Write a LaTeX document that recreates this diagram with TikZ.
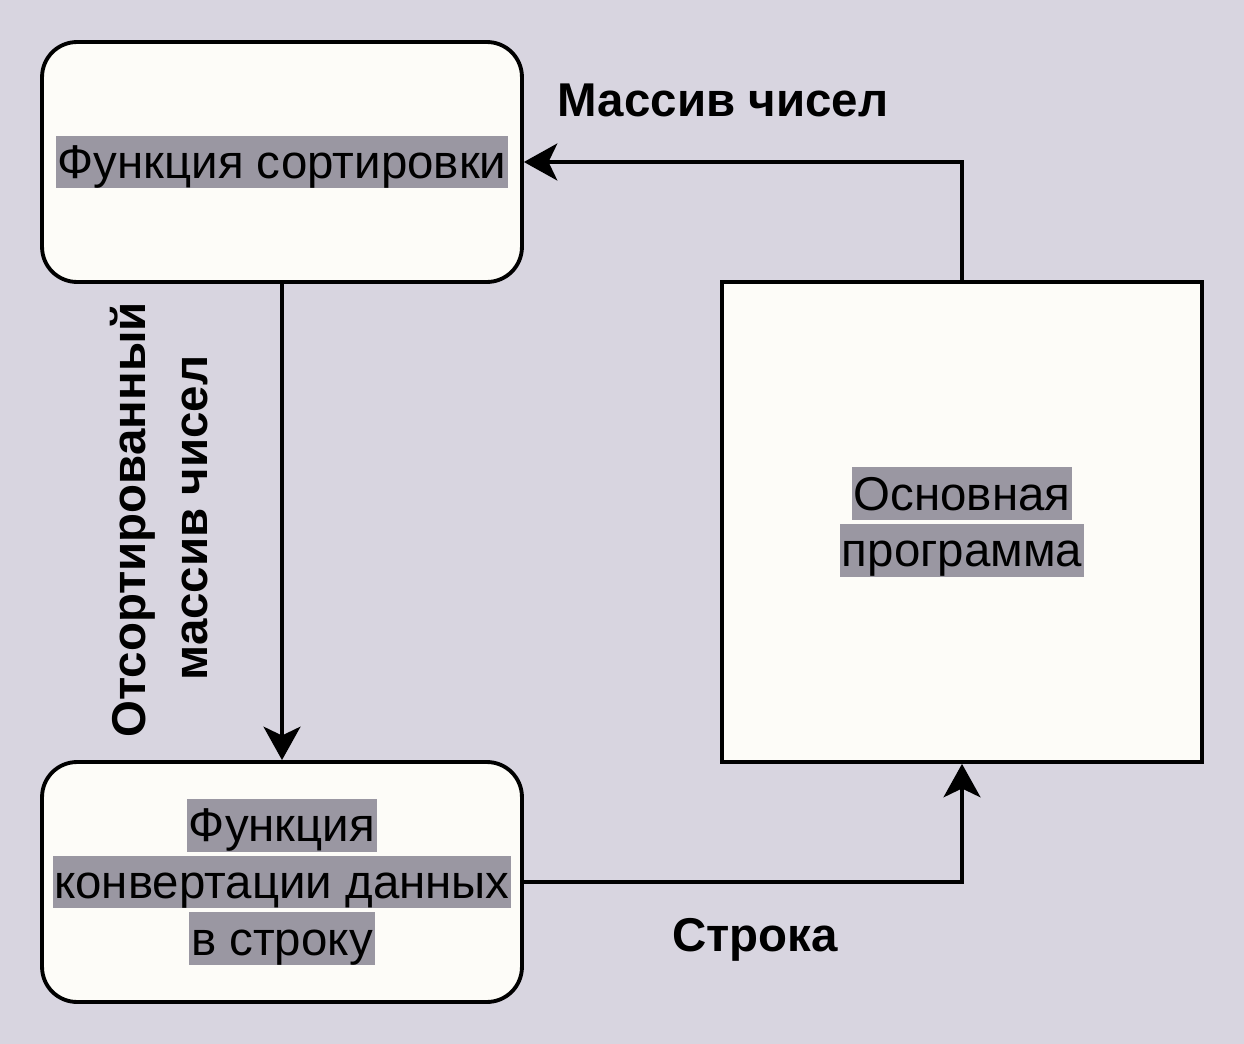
\documentclass[tikz,border=0pt]{standalone}
\usepackage{fontspec}
\setmainfont{Liberation Sans}
\usetikzlibrary{arrows.meta}
\definecolor{bgc}{HTML}{D8D5E0}
\definecolor{boxc}{HTML}{FDFCF8}
\definecolor{hlc}{HTML}{9A97A2}
\setlength\fboxsep{0pt}
\newcommand\hlt[1]{\colorbox{hlc}{\rule[-5.7pt]{0pt}{30.1pt}\hspace{1pt}#1\hspace{1pt}}}
\tikzset{
  rbox/.style={draw=black, line width=2.2pt, fill=boxc, rounded corners=0.7cm,
    minimum width=9.6cm, minimum height=4.8cm, align=center, inner sep=0pt,
    font=\fontsize{27}{32.3}\selectfont},
  sbox/.style={rbox, rounded corners=0pt, minimum height=9.6cm},
  conn/.style={line width=2.2pt, -{Stealth[length=19pt,width=21pt,inset=5pt]}},
  lbl/.style={font=\fontsize{27}{32.3}\selectfont\bfseries, align=center, inner sep=0pt}
}
\begin{document}
\begin{tikzpicture}[x=0.02cm,y=-0.02cm]
\fill[bgc] (0,0) rectangle (1244,1044);
\useasboundingbox (0,0) rectangle (1244,1044);
\node[rbox] (sort) at (282,162) {\hlt{Функция сортировки}};
\node[rbox] (conv) at (282,882) {\hlt{Функция}\\\hlt{конвертации данных}\\\hlt{в строку}};
\node[sbox] (main) at (962,522) {\hlt{Основная}\\\hlt{программа}};
\draw[conn] (main.north) |- (sort.east);
\draw[conn] (sort.south) -- (conv.north);
\draw[conn] (conv.east) -| (main.south);
\node[lbl] (l1) at (723,100) {Массив чисел};
\node[lbl] (l2) at (755,940) {Строка};
\node[lbl, rotate=90] (l3) at (133,520) {Отсортированный};
\node[lbl, rotate=90] (l4) at (195,518) {массив чисел};
\end{tikzpicture}
\end{document}
